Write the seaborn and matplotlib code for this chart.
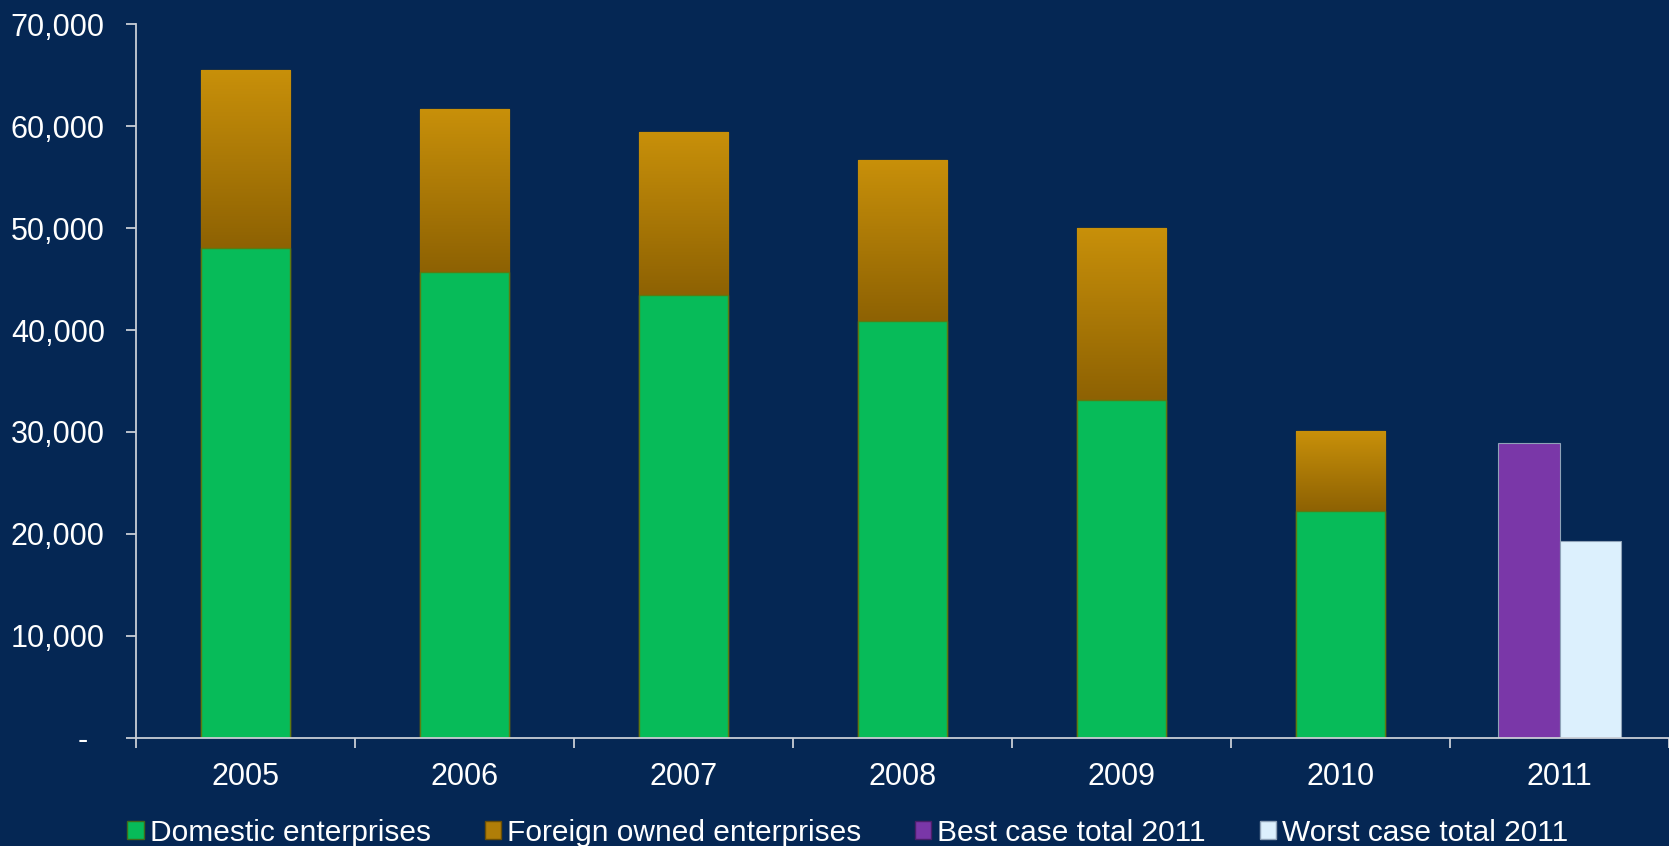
import numpy as np
import pandas as pd
import seaborn as sns
import matplotlib.pyplot as plt
from matplotlib.patches import Patch
from matplotlib.ticker import FixedLocator, FuncFormatter

# ---------- data ----------
years = ['2005', '2006', '2007', '2008', '2009', '2010', '2011']
hist_years = years[:-1]
domestic = [48000, 45700, 43400, 40900, 33100, 22300]
foreign = [17500, 16000, 16000, 15800, 16900, 7800]
scenarios = ['Best case total 2011', 'Worst case total 2011']
scenario_values = [28900, 19300]

BG = '#052754'
GREEN = '#07BB59'
GOLD = '#B07E08'
PURPLE = '#7A37A8'
LIGHT = '#DCF0FD'
AXIS_COL = '#C9CED6'

df_hist = pd.DataFrame({
    'year': hist_years,
    'domestic': domestic,
    'total': np.array(domestic) + np.array(foreign),
})
df_2011 = pd.DataFrame({'year': ['2011'] * 2, 'case': scenarios, 'value': scenario_values})

sns.set_style('dark')
plt.rcParams['font.family'] = ['Liberation Sans', 'DejaVu Sans']

fig, ax = plt.subplots(figsize=(16.69, 8.46), dpi=100)
fig.patch.set_facecolor(BG)
ax.set_facecolor(BG)
fig.subplots_adjust(left=0.0815, right=1.0, top=0.9716, bottom=0.1277)

# stacked bars: total (gold) underneath, domestic (green) on top
sns.barplot(data=df_hist, x='year', y='total', order=years, color=GOLD,
            width=0.41, saturation=1, edgecolor='#7A5A06', linewidth=1, ax=ax)
n_gold = len(ax.patches)
sns.barplot(data=df_hist, x='year', y='domestic', order=years, color=GREEN,
            width=0.41, saturation=1, edgecolor='#5E7A10', linewidth=1, ax=ax)
sns.barplot(data=df_2011, x='year', y='value', hue='case', order=years,
            hue_order=scenarios, palette=[PURPLE, LIGHT], width=0.56,
            saturation=1, dodge=True, edgecolor='#8FA3B8', linewidth=0.8,
            legend=False, ax=ax)

gold_bars = [p for p in ax.patches[:n_gold] if p.get_height() > 0]
green_bars = [p for p in ax.patches[n_gold:2 * n_gold] if p.get_height() > 0]

# vertical gradient on the visible gold segment (foreign owned part)
grad = np.linspace(0, 1, 100).reshape(-1, 1)
gold_cmap = sns.blend_palette(['#8E6203', '#C8900A'], as_cmap=True)
for p, q in zip(gold_bars, green_bars):
    x0 = p.get_x()
    im = ax.imshow(grad, cmap=gold_cmap, aspect='auto', origin='lower',
                   extent=[x0, x0 + p.get_width(), q.get_height(), p.get_height()],
                   zorder=1.5)
    im.set_clip_path(p)
for p in ax.patches[n_gold:]:
    p.set_zorder(3)

ax.set_xlim(-0.5, len(years) - 0.5)
ax.set_ylim(0, 70000)

# axes styling
for side in ['top', 'right']:
    ax.spines[side].set_visible(False)
for side in ['left', 'bottom']:
    ax.spines[side].set_visible(True)
    ax.spines[side].set_color(AXIS_COL)
    ax.spines[side].set_linewidth(1.3)
    ax.spines[side].set_zorder(4)

ax.yaxis.set_major_locator(FixedLocator(np.arange(0, 70001, 10000)))
ax.yaxis.set_major_formatter(FuncFormatter(lambda v, _: '-  ' if v == 0 else f'{int(v):,}'))
ax.tick_params(axis='y', colors=AXIS_COL, labelcolor='white', labelsize=22,
               length=7, width=1.3, pad=15.5, left=True, direction='out')

ax.set_xticks(range(len(years)))
ax.set_xticklabels(years)
ax.xaxis.set_minor_locator(FixedLocator(np.arange(-0.5, len(years), 1.0)))
ax.tick_params(axis='x', which='major', length=0, labelcolor='white', labelsize=22, pad=17)
ax.tick_params(axis='x', which='minor', length=7, width=1.3, color=AXIS_COL,
               bottom=True, direction='out')
ax.set_xlabel('')
ax.set_ylabel('')
ax.grid(False)

handles = [
    Patch(facecolor=GREEN, edgecolor='#3F6A1A', label='Domestic enterprises'),
    Patch(facecolor=GOLD, edgecolor='#6A4E05', label='Foreign owned enterprises'),
    Patch(facecolor=PURPLE, edgecolor='#4A1F6A', label='Best case total 2011'),
    Patch(facecolor=LIGHT, edgecolor='#8FA3B8', label='Worst case total 2011'),
]
fig.legend(handles=handles, loc='lower center', bbox_to_anchor=(0.508, -0.033),
           ncol=4, frameon=False, fontsize=21.5, labelcolor='white',
           handlelength=0.55, handleheight=0.55, handletextpad=0.2, columnspacing=1.8)

fig.savefig('out.png', dpi=100, facecolor=BG)
